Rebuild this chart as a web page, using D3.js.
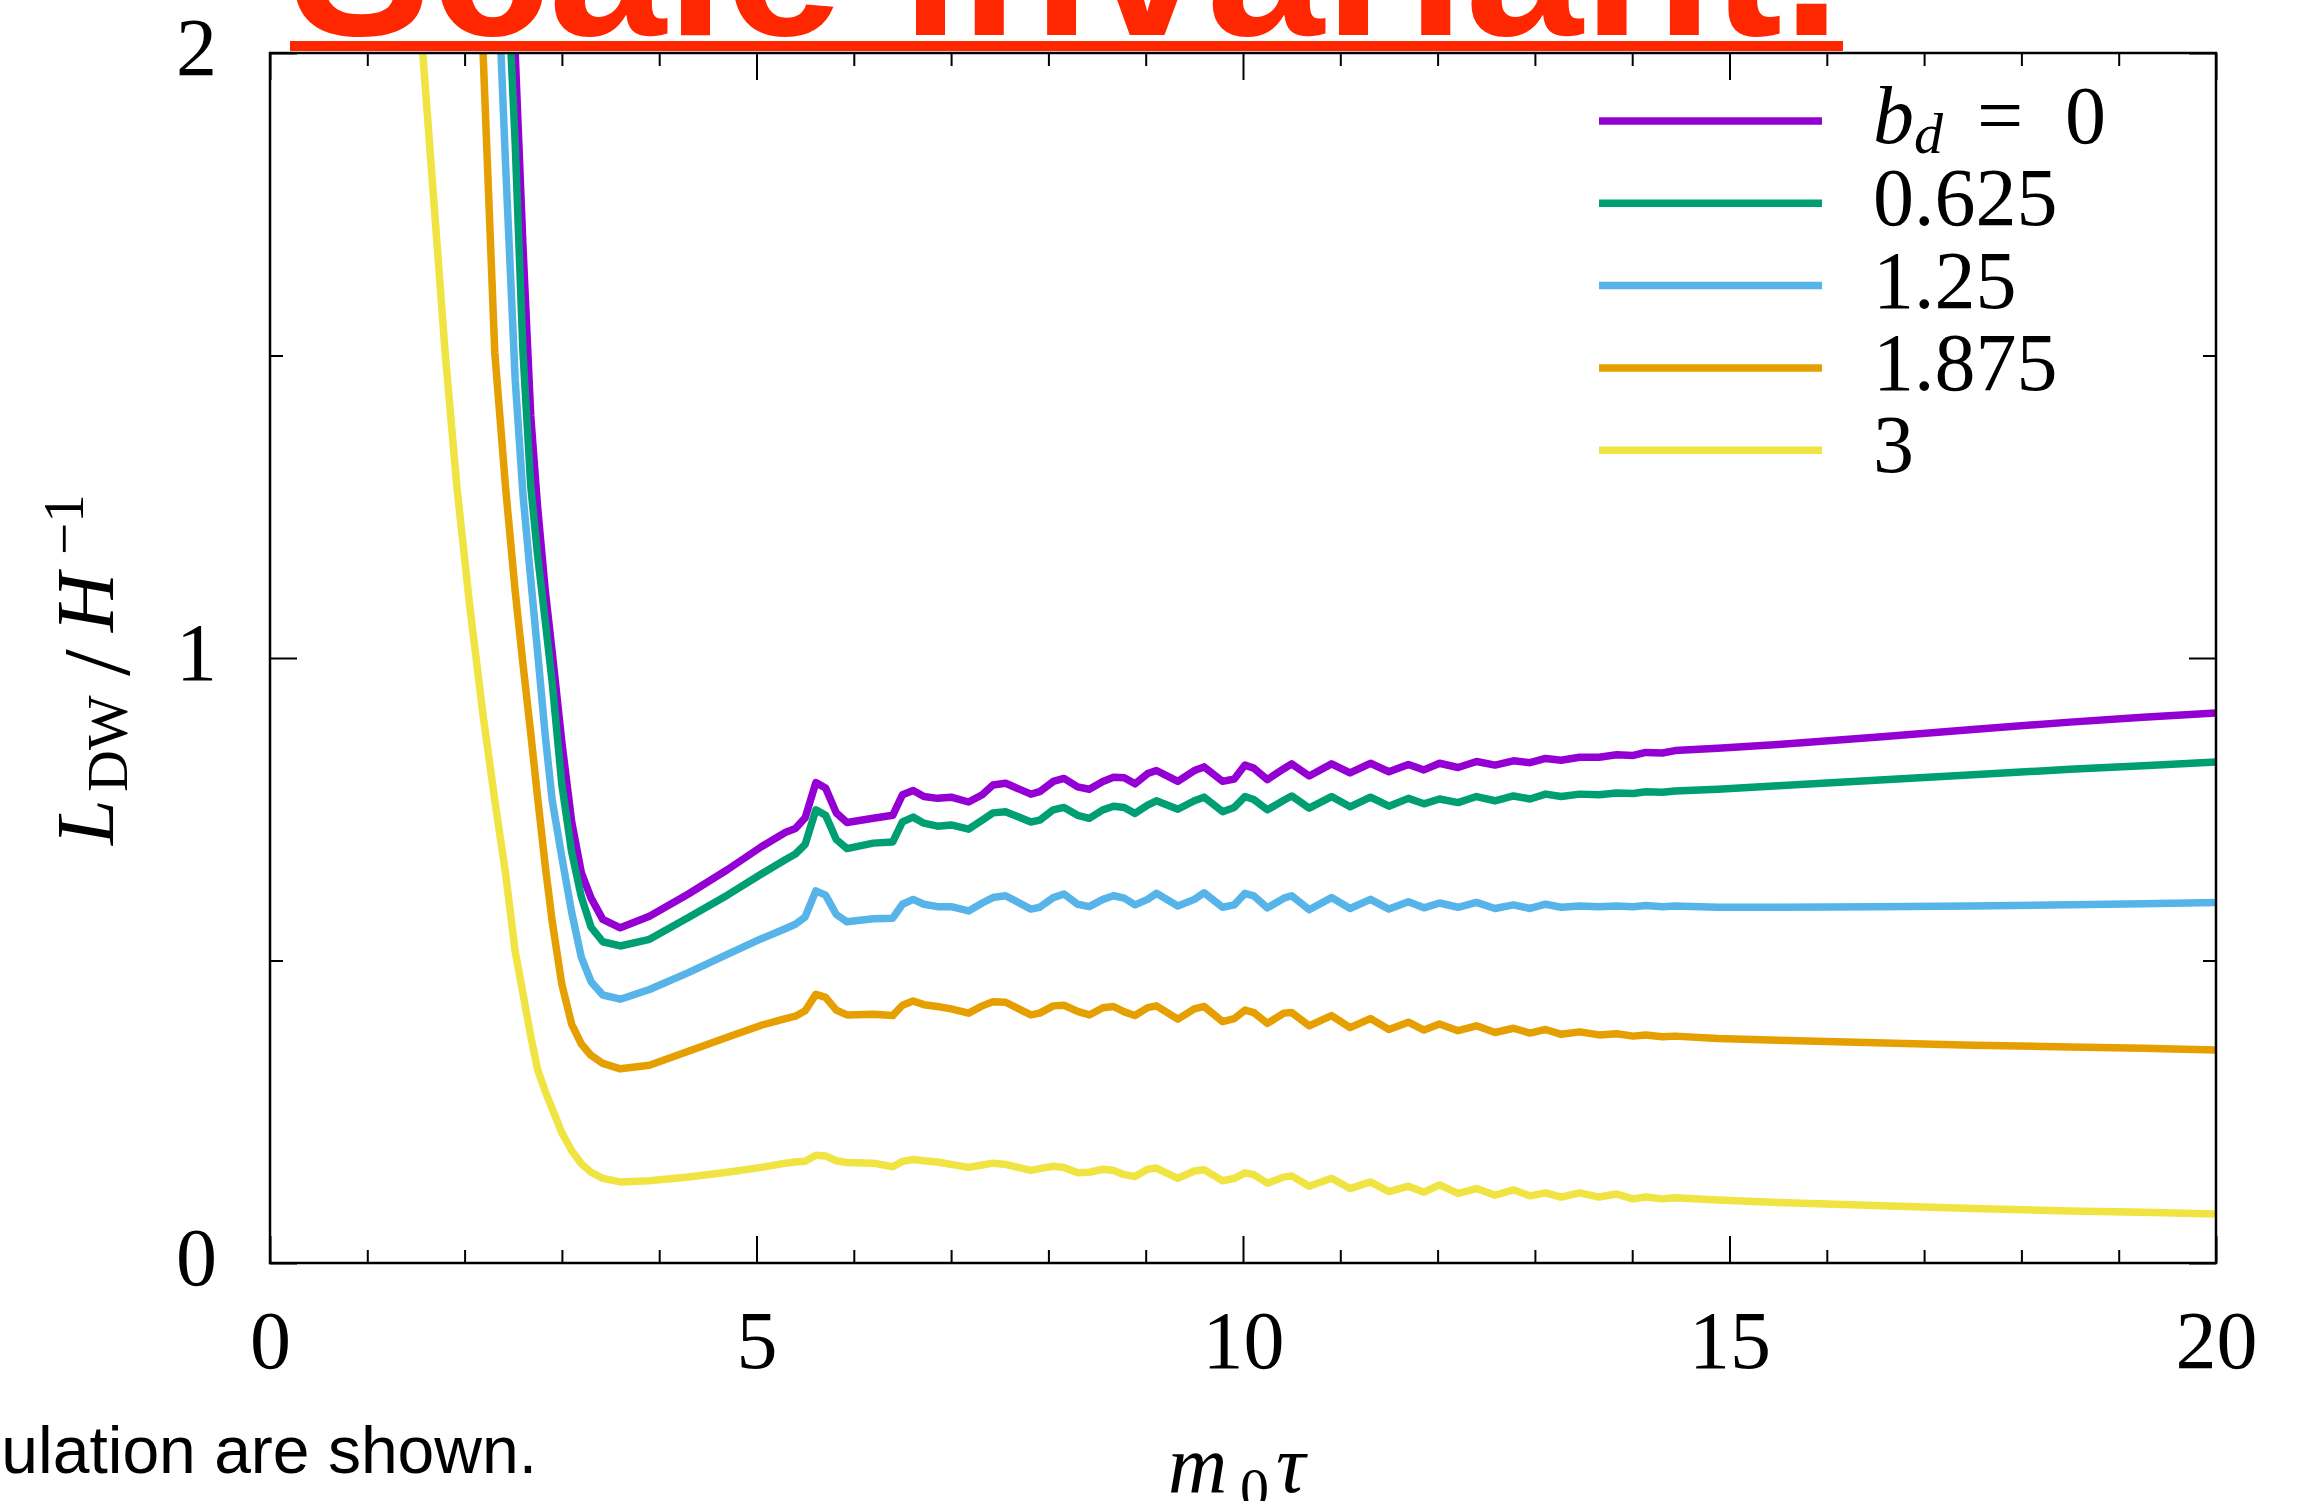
<!DOCTYPE html>
<html>
<head>
<meta charset="utf-8">
<script src="https://cdn.jsdelivr.net/npm/d3@7"></script>
<style>
  body { margin: 0; background: #fff; }
  svg { display: block; background: #fff; }
</style>
</head>
<body>
<svg width="2300" height="1501"></svg>
<script>
// m0*tau sample points shared by every curve
const tau = [
  1.4, 1.57, 1.7, 1.8, 1.92, 2.05, 2.19, 2.31, 2.42, 2.52,
  2.6, 2.68, 2.75, 2.83, 2.9, 3.0, 3.1, 3.2, 3.3, 3.42,
  3.6, 3.9, 4.3, 4.7, 5.05, 5.3, 5.4, 5.5, 5.61, 5.71,
  5.82, 5.93, 6.2, 6.4, 6.5, 6.61, 6.72, 6.86, 7.0, 7.18,
  7.32, 7.43, 7.56, 7.82, 7.91, 8.05, 8.16, 8.3, 8.42, 8.56,
  8.67, 8.78, 8.89, 9.02, 9.11, 9.33, 9.5, 9.6, 9.79, 9.91,
  10.02, 10.11, 10.25, 10.42, 10.5, 10.68, 10.91, 11.1, 11.31, 11.5,
  11.7, 11.86, 12.02, 12.21, 12.4, 12.59, 12.78, 12.95, 13.11, 13.27,
  13.46, 13.66, 13.84, 14.01, 14.14, 14.31, 14.44, 14.88, 15.5, 16.5,
  17.5, 18.5, 19.25, 20
]

// L_DW / H^-1 for each b_d (null = not plotted, > 2 runs off the top)
const bd0 = [
  null, null, null, null, null, null, null, 2.8, 2.35, 2.0,
  1.68, 1.40, 1.25, 1.11, 1.01, 0.86, 0.73, 0.645, 0.603, 0.568,
  0.554, 0.573, 0.610, 0.650, 0.688, 0.712, 0.718, 0.736, 0.794, 0.785,
  0.744, 0.728, 0.735, 0.740, 0.774, 0.781, 0.771, 0.768, 0.770, 0.762,
  0.774, 0.790, 0.793, 0.775, 0.779, 0.796, 0.801, 0.787, 0.783, 0.796,
  0.803, 0.802, 0.792, 0.809, 0.814, 0.796, 0.814, 0.820, 0.796, 0.800,
  0.823, 0.818, 0.799, 0.817, 0.825, 0.805, 0.825, 0.810, 0.826, 0.812,
  0.824, 0.815, 0.826, 0.819, 0.829, 0.823, 0.830, 0.827, 0.834, 0.831,
  0.836, 0.836, 0.840, 0.839, 0.844, 0.843, 0.847, 0.851, 0.857, 0.869,
  0.882, 0.894, 0.902, 0.909
]
const bd0625 = [
  null, null, null, null, null, null, null, 2.6, 2.2, 1.85,
  1.505, 1.284, 1.17, 1.06, 0.96, 0.79, 0.68, 0.605, 0.555, 0.531,
  0.524, 0.535, 0.571, 0.608, 0.643, 0.667, 0.676, 0.692, 0.749, 0.740,
  0.700, 0.685, 0.694, 0.696, 0.729, 0.737, 0.727, 0.722, 0.724, 0.717,
  0.732, 0.744, 0.746, 0.729, 0.732, 0.749, 0.753, 0.740, 0.735, 0.749,
  0.755, 0.753, 0.743, 0.757, 0.764, 0.750, 0.764, 0.770, 0.746, 0.753,
  0.771, 0.766, 0.749, 0.765, 0.772, 0.752, 0.771, 0.754, 0.770, 0.755,
  0.768, 0.759, 0.767, 0.761, 0.771, 0.764, 0.772, 0.767, 0.775, 0.771,
  0.775, 0.774, 0.777, 0.776, 0.779, 0.778, 0.780, 0.783, 0.789, 0.798,
  0.807, 0.816, 0.822, 0.828
]
const bd125 = [
  null, null, null, null, null, null, 2.7, 2.25, 1.82, 1.46,
  1.27, 1.13, 1.01, 0.87, 0.765, 0.67, 0.58, 0.505, 0.465, 0.443,
  0.436, 0.452, 0.480, 0.510, 0.536, 0.553, 0.560, 0.572, 0.615, 0.608,
  0.576, 0.564, 0.569, 0.570, 0.593, 0.601, 0.593, 0.589, 0.589, 0.582,
  0.595, 0.604, 0.607, 0.585, 0.588, 0.604, 0.610, 0.593, 0.589, 0.601,
  0.607, 0.603, 0.592, 0.601, 0.611, 0.590, 0.601, 0.612, 0.588, 0.592,
  0.611, 0.607, 0.587, 0.603, 0.607, 0.584, 0.604, 0.586, 0.601, 0.585,
  0.597, 0.587, 0.595, 0.588, 0.596, 0.586, 0.592, 0.586, 0.593, 0.588,
  0.590, 0.589, 0.590, 0.589, 0.591, 0.589, 0.590, 0.588, 0.588, 0.589,
  0.590, 0.592, 0.594, 0.596
]
const bd1875 = [
  null, null, null, null, null, 2.6, 2.0, 1.505, 1.284, 1.11,
  0.99, 0.875, 0.77, 0.655, 0.565, 0.46, 0.395, 0.362, 0.343, 0.330,
  0.321, 0.327, 0.350, 0.373, 0.393, 0.404, 0.408, 0.417, 0.444, 0.439,
  0.418, 0.410, 0.411, 0.409, 0.426, 0.433, 0.427, 0.424, 0.420, 0.413,
  0.425, 0.432, 0.431, 0.410, 0.413, 0.425, 0.426, 0.416, 0.410, 0.422,
  0.424, 0.415, 0.409, 0.422, 0.425, 0.403, 0.420, 0.424, 0.399, 0.404,
  0.418, 0.414, 0.396, 0.413, 0.414, 0.392, 0.409, 0.389, 0.404, 0.386,
  0.398, 0.385, 0.395, 0.384, 0.392, 0.381, 0.388, 0.380, 0.386, 0.378,
  0.382, 0.377, 0.379, 0.375, 0.377, 0.374, 0.375, 0.371, 0.368, 0.364,
  0.360, 0.357, 0.355, 0.352
]
const bd3 = [
  2.45, 2.0, 1.72, 1.505, 1.284, 1.09, 0.905, 0.765, 0.645, 0.515,
  0.445, 0.375, 0.32, 0.283, 0.255, 0.215, 0.186, 0.164, 0.150, 0.140,
  0.134, 0.136, 0.142, 0.150, 0.158, 0.165, 0.167, 0.168, 0.178, 0.177,
  0.169, 0.166, 0.165, 0.159, 0.168, 0.171, 0.169, 0.167, 0.163, 0.158,
  0.162, 0.165, 0.163, 0.153, 0.156, 0.160, 0.158, 0.149, 0.150, 0.155,
  0.153, 0.146, 0.143, 0.155, 0.157, 0.140, 0.152, 0.154, 0.136, 0.140,
  0.149, 0.146, 0.132, 0.142, 0.144, 0.127, 0.140, 0.123, 0.134, 0.118,
  0.127, 0.117, 0.129, 0.115, 0.123, 0.112, 0.121, 0.111, 0.116, 0.109,
  0.116, 0.109, 0.114, 0.106, 0.109, 0.106, 0.108, 0.104, 0.100, 0.095,
  0.090, 0.086, 0.084, 0.081
]

const seriesValues = [bd0, bd0625, bd125, bd1875, bd3]
const seriesLabels = ['0', '0.625', '1.25', '1.875', '3']
const colors = ['#9400d3', '#009e73', '#56b4e9', '#e69f00', '#f0e442']

const xMajor = [0, 5, 10, 15, 20]
const xMinor = d3.range(1, 20).filter(d => d % 5 !== 0)
const yMajor = [0, 1, 2]
const yMinor = [0.5, 1.5]

const svg = d3.select('svg')
const width = +svg.attr('width')
const height = +svg.attr('height')
const margin = { top: 53, right: 84, bottom: 238, left: 270 }
const innerWidth = width - margin.left - margin.right
const innerHeight = height - margin.top - margin.bottom

const serif = "'Liberation Serif', 'Times New Roman', serif"
const sans = "'Liberation Sans', Arial, sans-serif"
const fontSize = 82

const xScale = d3.scaleLinear().domain([0, 20]).range([0, innerWidth])
const yScale = d3.scaleLinear().domain([0, 2]).range([innerHeight, 0])

const g = svg.append('g')
  .attr('transform', `translate(${margin.left},${margin.top})`)

g.append('clipPath').attr('id', 'plot-clip')
  .append('rect')
  .attr('width', innerWidth)
  .attr('height', innerHeight)

// curves
const lineGenerator = d3.line()
  .defined(d => d.v != null)
  .x(d => xScale(d.t))
  .y(d => yScale(d.v))

seriesValues.forEach((vals, i) => {
  const data = tau.map((t, j) => ({ t, v: vals[j] }))
  g.append('path')
    .attr('clip-path', 'url(#plot-clip)')
    .attr('d', lineGenerator(data))
    .attr('fill', 'none')
    .attr('stroke', colors[i])
    .attr('stroke-width', 7.5)
    .attr('stroke-linejoin', 'round')
})

// axes, ticks pointing inward on all four sides
const styleAxis = (sel, w) => {
  sel.select('.domain').remove()
  sel.selectAll('.tick line').attr('stroke', '#000').attr('stroke-width', w)
  sel.attr('font-family', serif).attr('font-size', fontSize)
  sel.selectAll('.tick text').attr('fill', '#000')
}

const bottomAxis = g.append('g')
  .attr('transform', `translate(0,${innerHeight})`)
  .call(d3.axisBottom(xScale).tickValues(xMajor).tickSize(-27).tickPadding(47).tickFormat(d3.format('d')))
styleAxis(bottomAxis, 2)

g.append('g')
  .attr('transform', `translate(0,${innerHeight})`)
  .call(d3.axisBottom(xScale).tickValues(xMinor).tickSize(-13).tickFormat(''))
  .call(sel => styleAxis(sel, 2))

g.append('g')
  .call(d3.axisTop(xScale).tickValues(xMajor).tickSize(-27).tickFormat(''))
  .call(sel => styleAxis(sel, 2))

g.append('g')
  .call(d3.axisTop(xScale).tickValues(xMinor).tickSize(-13).tickFormat(''))
  .call(sel => styleAxis(sel, 2))

const leftAxis = g.append('g')
  .call(d3.axisLeft(yScale).tickValues(yMajor).tickSize(-27).tickPadding(53).tickFormat(d3.format('d')))
styleAxis(leftAxis, 2)
leftAxis.selectAll('.tick text').attr('dy', '0.26em')

g.append('g')
  .call(d3.axisLeft(yScale).tickValues(yMinor).tickSize(-13).tickFormat(''))
  .call(sel => styleAxis(sel, 2))

g.append('g')
  .attr('transform', `translate(${innerWidth},0)`)
  .call(d3.axisRight(yScale).tickValues(yMajor).tickSize(-27).tickFormat(''))
  .call(sel => styleAxis(sel, 2))

g.append('g')
  .attr('transform', `translate(${innerWidth},0)`)
  .call(d3.axisRight(yScale).tickValues(yMinor).tickSize(-13).tickFormat(''))
  .call(sel => styleAxis(sel, 2))

// frame
g.append('rect')
  .attr('width', innerWidth)
  .attr('height', innerHeight)
  .attr('fill', 'none')
  .attr('stroke', '#000')
  .attr('stroke-width', 2.5)

// legend
const legend = svg.append('g')
  .attr('font-family', serif)
  .attr('font-size', fontSize)

seriesLabels.forEach((label, i) => {
  const ly = 121 + i * 82.3
  legend.append('line')
    .attr('x1', 1599).attr('x2', 1822)
    .attr('y1', ly).attr('y2', ly)
    .attr('stroke', colors[i])
    .attr('stroke-width', 7.5)
  const t = legend.append('text')
    .attr('x', 1873)
    .attr('y', ly + 22)
  if (i === 0) {
    t.append('tspan').attr('font-style', 'italic').text('b')
    t.append('tspan').attr('font-style', 'italic').attr('font-size', 58).attr('dy', 10).text('d')
    t.append('tspan').attr('x', 1977).attr('dy', -10).text('=')
    t.append('tspan').attr('x', 2065).text(label)
  } else {
    t.text(label)
  }
})

// y axis label: L_DW / H^-1
const yLabel = svg.append('text')
  .attr('transform', 'rotate(-90)')
  .attr('x', -845)
  .attr('y', 113)
  .attr('font-family', serif)
  .attr('font-size', fontSize)
yLabel.append('tspan').attr('font-style', 'italic').text('L')
yLabel.append('tspan').attr('x', -792).attr('dy', 14).attr('font-size', 58).text('DW')
yLabel.append('tspan').attr('x', -676).attr('dy', 2).attr('font-size', 96).text('/')
yLabel.append('tspan').attr('x', -632).attr('dy', -16).attr('font-style', 'italic').text('H')
yLabel.append('tspan').attr('x', -555).attr('dy', -30).attr('font-size', 57).text('\u22121')

// x axis label: m_0 tau
const xLabel = svg.append('text')
  .attr('x', 1168)
  .attr('y', 1492)
  .attr('font-family', serif)
  .attr('font-size', fontSize)
xLabel.append('tspan').attr('font-style', 'italic').text('m')
xLabel.append('tspan').attr('x', 1240).attr('dy', 16).attr('font-size', 58).text('0')
xLabel.append('tspan').attr('x', 1276).attr('dy', -16).attr('font-style', 'italic').text('\u03c4')

// slide title overlapping the top of the figure
svg.append('text')
  .attr('x', 290)
  .attr('y', 35)
  .attr('font-family', sans)
  .attr('font-weight', 'bold')
  .attr('font-size', 210)
  .attr('fill', '#ff2700')
  .attr('textLength', 1551)
  .attr('lengthAdjust', 'spacingAndGlyphs')
  .text('Scale invariant.')

svg.append('rect')
  .attr('x', 290)
  .attr('y', 41)
  .attr('width', 1553)
  .attr('height', 10)
  .attr('fill', '#ff2700')

// caption fragment at the lower left
svg.append('text')
  .attr('x', 537)
  .attr('y', 1473)
  .attr('text-anchor', 'end')
  .attr('font-family', sans)
  .attr('font-size', 66)
  .attr('fill', '#000')
  .text('ulation are shown.')
</script>
</body>
</html>
